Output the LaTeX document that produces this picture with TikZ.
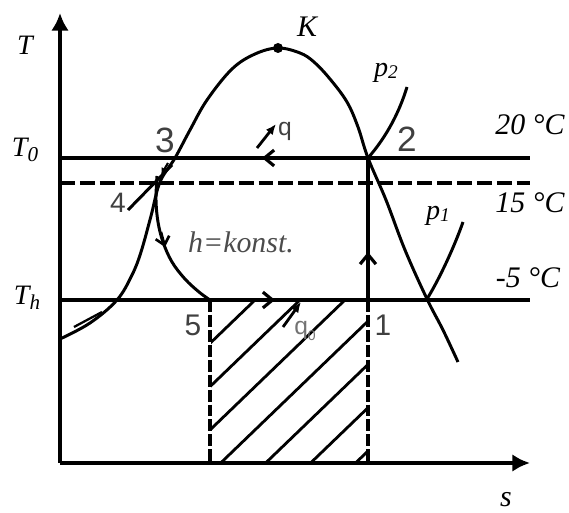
\documentclass[tikz,border=0pt]{standalone}
\usepackage{fontspec}
\setmainfont{Liberation Serif}
\setsansfont{Liberation Sans}
\usetikzlibrary{arrows.meta}
\begin{document}
\begin{tikzpicture}[x=0.02cm,y=-0.02cm,
  axis/.style={line width=2.2pt,-{Latex[length=10pt,width=10pt]}},
  mainline/.style={line width=2.2pt},
  curve/.style={line width=1.7pt},
  dashline/.style={line width=2.1pt,dash pattern=on 8.5pt off 2.8pt},
  vdash/.style={line width=1.9pt,dash pattern=on 6.8pt off 1.7pt},
  hatch/.style={line width=1.6pt},
  barb/.style={line width=1.8pt,-{Straight Barb[length=5.5pt,width=9pt,line width=1.8pt]}},
  qarrow/.style={line width=1.6pt,-{Latex[length=6pt,width=5pt]}},
  lab/.style={font=\itshape\fontsize{16}{18}\selectfont,inner sep=0pt},
  num/.style={font=\sffamily\fontsize{17}{19}\selectfont,text=black!75,inner sep=0pt},
]
\useasboundingbox (0,0) rectangle (569,513);
% key points
\coordinate (O) at (60,463);
\coordinate (Ytop) at (60,13);
\coordinate (Xend) at (530,463);
\coordinate (K) at (278,48);
\coordinate (P1) at (368,300);
\coordinate (P2) at (368,158);
\coordinate (P3) at (175,158);
\coordinate (P4) at (157,182);
\coordinate (P5) at (210,300);
\coordinate (T0L) at (60,158);
\coordinate (T0R) at (530,158);
\coordinate (TdL) at (60,183);
\coordinate (TdR) at (530,183);
\coordinate (ThL) at (60,300);
\coordinate (ThR) at (530,300);
\coordinate (B5) at (210,463);
\coordinate (B1) at (368,463);
\coordinate (P1a) at (427,299);

% hatching
\begin{scope}
\clip (211,300) rectangle (368,463);
\foreach \c in {545.6,588.9,632.2,675.5,718.8,762.1,805.4}
  \draw[hatch] (150,{\c-144.45}) -- (420,{\c-404.46});
\end{scope}

% axes
\draw[axis] (O) -- (Ytop);
\draw[axis] (O) -- (Xend);

% horizontal lines
\draw[mainline] (T0L) -- (T0R);
\draw[dashline] (TdL) -- (TdR);
\draw[mainline] (ThL) -- (ThR);
\draw[barb] (285,158) -- (262,158);
\draw[barb] (250,300) -- (275,300);

% vertical lines
\draw[mainline] (P1) -- (P2);
\draw[barb] (368,280) -- (368,252);
\draw[vdash] (P5) -- (B5);
\draw[vdash] (P1) -- (B1);

% saturation dome
\draw[curve] plot[smooth,tension=0.6] coordinates {(60,339) (90,323) (117,300) (132,275) (141,252) (151,216) (160,182) (175,158) (190,130) (207,100) (232,69) (255,54) (278,48) (300,53) (314,62) (330,79) (347,102) (358,127) (368,158) (386,200) (405,250) (427,299) (443,330) (458,362)};
\draw[line width=1.3pt] (74,327) -- (102,312);
\fill (K) circle (5);

% isobars
\draw[curve] (P2) .. controls (388,135) and (400,110) .. (407,87);
\draw[curve] (P1a) .. controls (440,278) and (455,245) .. (463,222);

% 4 line and throttling curve
\draw[curve] (128,210) -- (172,165);
\draw[curve] plot[smooth,tension=0.6] coordinates {(157,176) (156,200) (158,222) (163,242) (172,262) (185,279) (199,292) (210,300)};
\draw[line width=1.5pt,-{Straight Barb[length=4.5pt,width=8pt,line width=1.5pt]}] (161,232) -- (165,247);
\draw[line width=1.2pt,-{Latex[length=4pt,width=4pt]}] (168,163) -- (161,175);

% heat arrows
\draw[qarrow] (257,148) -- (276,124);
\draw[qarrow] (283,327) -- (301,302);

% labels
\node[lab] (lT) at (25,45) {T};
\node[lab] (lT0) at (25,150) {T\raisebox{-3pt}{\fontsize{12}{14}\selectfont 0}};
\node[lab] (lTh) at (27,298) {T\raisebox{-3pt}{\fontsize{12}{14}\selectfont h}};
\node[lab,font=\itshape\fontsize{17}{19}\selectfont] (lK) at (307,27) {K};
\node[lab] (lp2) at (386,73) {p\raisebox{-1pt}{\fontsize{11}{13}\selectfont 2}};
\node[lab] (lp1) at (438,216) {p\raisebox{-1pt}{\fontsize{11}{13}\selectfont 1}};
\node[lab,font=\itshape\fontsize{17}{19}\selectfont] (l20) at (530,125) {20 °C};
\node[lab,font=\itshape\fontsize{17}{19}\selectfont] (l15) at (530,203) {15 °C};
\node[lab,font=\itshape\fontsize{17}{19}\selectfont] (l5) at (528,278) {-5 °C};
\node[lab,font=\itshape\fontsize{17}{19}\selectfont] (ls) at (506,500) {s};
\node[lab,font=\itshape\fontsize{17}{19}\selectfont,text=black!70] (lh) at (241,242) {h=konst.};
\node[num,font=\sffamily\fontsize{20}{22}\selectfont] (n3) at (165,140) {3};
\node[num,font=\sffamily\fontsize{20}{22}\selectfont] (n2) at (407,139) {2};
\node[num,font=\sffamily\fontsize{16}{18}\selectfont] (n4) at (118,203) {4};
\node[num] (n5) at (193,325) {5};
\node[num] (n1) at (383,325) {1};
\node[num,font=\sffamily\fontsize{14}{16}\selectfont] (nq) at (285,131) {q};
\node[num,font=\sffamily\fontsize{14}{16}\selectfont,text=black!55] (nq0) at (305,331) {q\raisebox{-3pt}{\fontsize{8}{9}\selectfont 0}};
\end{tikzpicture}
\end{document}
